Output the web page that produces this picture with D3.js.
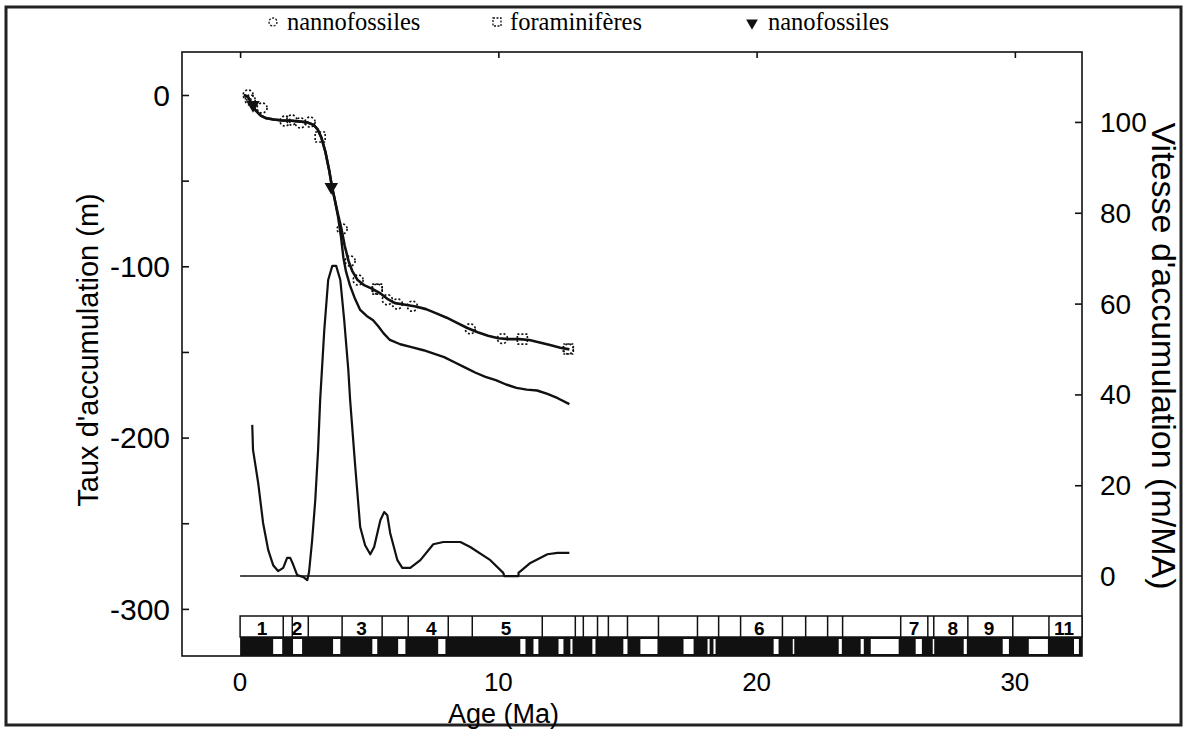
<!DOCTYPE html>
<html><head><meta charset="utf-8">
<script src="https://cdn.jsdelivr.net/npm/d3@7"></script>
<style>html,body{margin:0;padding:0;background:#fff;}</style>
</head><body><svg id="c" width="1187" height="731"></svg>
<script>
// ---- data ----
const depthNanno = [[0.15,0],[0.3,-1],[0.45,-5],[0.6,-9],[0.8,-12],[1.0,-13.5],[1.3,-14.3],[1.6,-14.8],[2.0,-15],[2.3,-15.5],[2.6,-16],[2.85,-17.5],[3.0,-20],[3.15,-25],[3.3,-33],[3.45,-44],[3.55,-53],[3.65,-60],[3.78,-69],[3.92,-78],[4.05,-88],[4.2,-97],[4.35,-103],[4.55,-108],[4.8,-111],[5.1,-113],[5.4,-115.5],[5.7,-119],[6.0,-121.5],[6.4,-122.5],[6.8,-123.5],[7.2,-125],[7.6,-127.5],[8.0,-130],[8.4,-133],[8.8,-136],[9.2,-138.5],[9.6,-140.5],[10.0,-142],[10.4,-142.5],[10.8,-142.5],[11.2,-143],[11.6,-144.5],[12.0,-146],[12.4,-147.5],[12.75,-148.5]];
const depthLower = [[0.15,0],[0.3,-1],[0.45,-5],[0.6,-9],[0.8,-12],[1.0,-13.5],[1.3,-14.3],[1.6,-14.8],[2.0,-15],[2.3,-15.5],[2.6,-16],[2.85,-17.5],[3.0,-20],[3.15,-25],[3.3,-33],[3.45,-44],[3.55,-53],[3.65,-60],[3.78,-70],[3.9,-82],[4.0,-95],[4.1,-103],[4.25,-111],[4.45,-119],[4.65,-125.5],[4.9,-129],[5.15,-131.5],[5.35,-135],[5.55,-139],[5.8,-143],[6.2,-145.5],[6.6,-147],[7.1,-149],[7.5,-151],[7.9,-153],[8.3,-156],[8.7,-159],[9.1,-162],[9.5,-164.5],[9.9,-166.5],[10.3,-169],[10.7,-171],[11.1,-172],[11.5,-172.5],[11.9,-174.5],[12.3,-177],[12.75,-180.5]];
const rate = [[0.47,33.3],[0.5,27.8],[0.7,20.5],[0.89,11.7],[1.09,5.7],[1.28,2.4],[1.47,1.1],[1.67,1.8],[1.82,4.0],[1.94,4.0],[2.05,2.6],[2.21,0.2],[2.44,-0.2],[2.6,-0.9],[2.67,0.9],[2.79,7.9],[2.91,16.7],[3.02,27.8],[3.1,38.8],[3.26,54.2],[3.41,65.2],[3.57,68.3],[3.72,68.3],[3.88,65.2],[4.03,56.4],[4.19,45.4],[4.26,38.8],[4.46,24.0],[4.65,10.8],[4.84,6.8],[5.04,4.8],[5.19,6.4],[5.43,12.3],[5.58,14.1],[5.7,13.4],[5.81,9.5],[6.09,3.5],[6.28,1.8],[6.59,1.8],[6.98,3.5],[7.48,7.0],[7.87,7.5],[8.53,7.5],[8.91,6.4],[9.69,3.5],[10.19,0.7],[10.23,0],[10.78,0],[10.78,0.7],[11.24,2.9],[11.9,4.8],[12.29,5.1],[12.75,5.1]];
const ptsNanno = [[0.31,0],[0.39,-2.9],[0.85,-7.6],[1.74,-15.2],[2.0,-14.6],[2.33,-16.3],[2.71,-15.8],[3.95,-78.2],[4.26,-96.9],[4.57,-108],[5.31,-113.3],[5.7,-119.5],[6.09,-122],[6.67,-123.3],[8.91,-136.5],[10.16,-142.2],[12.71,-148.3]];
const ptsForam = [[3.1,-24.5],[5.31,-113.3],[10.93,-142.5],[12.71,-148.3]];
const ptsNanoTri = [[0.5,-5.8],[3.53,-53.7]];
const xTicks = [0,10,20,30];
const yLeftTicks = [-300,-250,-200,-150,-100,-50,0];
const yLeftLabels = [-300,-200,-100,0];
const yRightTicks = [0,20,40,60,80,100];
const chronBounds = [0,1.67,2.02,2.64,3.95,5.5,6.51,8.06,8.99,11.7,12.98,13.29,13.84,14.26,15.0,16.2,17.71,18.53,19.38,21.0,21.9,22.75,23.33,25.58,26.63,26.86,28.18,29.92,31.32,32.6];
const chronLabels = [["1",0.85],["2",2.2],["3",4.7],["4",7.4],["5",10.3],["6",20.1],["7",26.1],["8",27.6],["9",29.0],["11",31.9]];
const reversed = [[1.28,1.63],[2.05,2.4],[3.6,3.88],[5.12,5.31],[6.12,6.4],[7.67,7.95],[10.85,11.05],[11.36,11.55],[12.33,12.52],[12.79,12.87],[13.64,13.76],[14.84,15.0],[15.5,16.16],[17.17,17.56],[18.1,18.18],[18.33,18.41],[20.66,20.85],[21.4,21.45],[23.18,23.3],[24.03,24.15],[24.42,25.5],[26.16,26.4],[26.82,26.86],[28.02,28.14],[29.53,29.77],[30.54,31.28],[32.29,32.48]];
const legendItems = [["circle","nannofossiles"],["square","foraminifères"],["triangle","nanofossiles"]];

// ---- layout ----
const L=182,R=1082,T=52,B=656;
const x = d3.scaleLinear().domain([-2.25,32.6]).range([L,R]);
const yL = d3.scaleLinear().domain([-327.5,25.1]).range([B,T]);
const yR = d3.scaleLinear().domain([-17.6,115.4]).range([B,T]);
const svg = d3.select("#c");
const sans = "'Liberation Sans', Arial, Helvetica, sans-serif";
const serif = "'Liberation Serif', 'Times New Roman', serif";

// outer frame
svg.append("rect").attr("x",6).attr("y",7).attr("width",1175).attr("height",718)
  .attr("fill","none").attr("stroke","#222").attr("stroke-width",3);

// plot frame
svg.append("rect").attr("x",L).attr("y",T).attr("width",R-L).attr("height",B-T)
  .attr("fill","none").attr("stroke","#111").attr("stroke-width",1.6);

// axes
const gl = svg.append("g").attr("transform",`translate(${L},0)`)
  .call(d3.axisRight(yL).tickValues(yLeftTicks).tickSize(7).tickFormat(""));
const gr = svg.append("g").attr("transform",`translate(${R},0)`)
  .call(d3.axisLeft(yR).tickValues(yRightTicks.filter(d=>d>0)).tickSize(7).tickFormat(""));
const gt = svg.append("g").attr("transform",`translate(0,${T})`)
  .call(d3.axisBottom(x).tickValues(xTicks).tickSize(6).tickFormat(""));
[gl,gr,gt].forEach(g=>{g.select(".domain").remove();g.selectAll("line").attr("stroke","#111").attr("stroke-width",1.6);});

// tick labels
svg.append("g").selectAll("text").data(yLeftLabels).join("text")
  .attr("x",170).attr("y",d=>yL(d)).attr("dy","0.36em").attr("text-anchor","end")
  .attr("font-family",sans).attr("font-size",30).text(d=>d);
svg.append("g").selectAll("text").data(yRightTicks).join("text")
  .attr("x",1100).attr("y",d=>yR(d)).attr("dy","0.36em").attr("text-anchor","start")
  .attr("font-family",sans).attr("font-size",28).text(d=>d);
svg.append("g").selectAll("text").data(xTicks).join("text")
  .attr("x",d=>x(d)).attr("y",682).attr("dy","0.36em").attr("text-anchor","middle")
  .attr("font-family",sans).attr("font-size",26).text(d=>d);

// titles
svg.append("text").attr("transform","translate(88,350) rotate(-90)").attr("text-anchor","middle")
  .attr("dy","0.36em").attr("font-family",sans).attr("font-size",29).text("Taux d'accumulation (m)");
svg.append("text").attr("transform","translate(1164,356) rotate(90)").attr("text-anchor","middle")
  .attr("dy","0.36em").attr("font-family",sans).attr("font-size",34).text("Vitesse d'accumulation (m/MA)");
svg.append("text").attr("x",x(10.2)).attr("y",713).attr("dy","0.36em").attr("text-anchor","middle")
  .attr("font-family",sans).attr("font-size",27).text("Age (Ma)");

// magnetic band
const bTop=616, bMid=637, bBot=B;
const band = svg.append("g");
band.append("rect").attr("x",x(0)).attr("y",bTop).attr("width",R-x(0)).attr("height",bMid-bTop)
  .attr("fill","#fff").attr("stroke","#111").attr("stroke-width",1.5);
band.append("rect").attr("x",x(0)).attr("y",bMid).attr("width",R-x(0)).attr("height",bBot-bMid)
  .attr("fill","#111");
band.selectAll("line.cb").data(chronBounds.slice(1,-1)).join("line").attr("class","cb")
  .attr("x1",d=>x(d)).attr("x2",d=>x(d)).attr("y1",bTop).attr("y2",bMid)
  .attr("stroke","#111").attr("stroke-width",1.5);
band.selectAll("rect.rv").data(reversed).join("rect").attr("class","rv")
  .attr("x",d=>x(d[0])).attr("width",d=>Math.max(1.5,x(d[1])-x(d[0])))
  .attr("y",bMid+2).attr("height",bBot-bMid-4).attr("fill","#fff");
band.selectAll("text").data(chronLabels).join("text")
  .attr("x",d=>x(d[1])).attr("y",(bTop+bMid)/2+1).attr("dy","0.37em").attr("text-anchor","middle")
  .attr("font-family",sans).attr("font-weight","bold").attr("font-size",19).text(d=>d[0]);

// zero line of rate axis
svg.append("line").attr("x1",x(0)).attr("x2",R).attr("y1",yR(0)).attr("y2",yR(0))
  .attr("stroke","#111").attr("stroke-width",1.6);

// curves
const lineL = d3.line().x(d=>x(d[0])).y(d=>yL(d[1]));
const lineR = d3.line().x(d=>x(d[0])).y(d=>yR(d[1]));
svg.append("path").attr("d",lineL(depthLower)).attr("fill","none").attr("stroke","#111").attr("stroke-width",2.4).attr("stroke-linejoin","round");
svg.append("path").attr("d",lineL(depthNanno)).attr("fill","none").attr("stroke","#111").attr("stroke-width",2.6).attr("stroke-linejoin","round");
svg.append("path").attr("d",lineR(rate)).attr("fill","none").attr("stroke","#111").attr("stroke-width",2.2).attr("stroke-linejoin","round");

// symbols
svg.append("g").selectAll("circle").data(ptsNanno).join("circle")
  .attr("cx",d=>x(d[0])).attr("cy",d=>yL(d[1])).attr("r",5)
  .attr("fill","none").attr("stroke","#111").attr("stroke-width",1.6).attr("stroke-dasharray","2,2");
svg.append("g").selectAll("rect").data(ptsForam).join("rect")
  .attr("x",d=>x(d[0])-5).attr("y",d=>yL(d[1])-5).attr("width",10).attr("height",10)
  .attr("fill","none").attr("stroke","#111").attr("stroke-width",1.6).attr("stroke-dasharray","2,2");
const tri = d3.symbol().type(d3.symbolTriangle).size(80);
svg.append("g").selectAll("path").data(ptsNanoTri).join("path")
  .attr("transform",d=>`translate(${x(d[0])},${yL(d[1])}) rotate(180)`).attr("d",tri()).attr("fill","#111");

// legend
const legX = [273,497,752], legTx=[287,510,768];
const lg = svg.append("g");
legendItems.forEach((it,i)=>{
  const cy=22;
  if(it[0]==="circle") lg.append("circle").attr("cx",legX[i]).attr("cy",cy).attr("r",4).attr("fill","none").attr("stroke","#111").attr("stroke-width",1.3).attr("stroke-dasharray","2,1.5");
  else if(it[0]==="square") lg.append("rect").attr("x",legX[i]-4).attr("y",cy-4).attr("width",8).attr("height",8).attr("fill","none").attr("stroke","#111").attr("stroke-width",1.3).attr("stroke-dasharray","2,1.5");
  else lg.append("path").attr("transform",`translate(${legX[i]},${cy+1}) rotate(180)`).attr("d",d3.symbol().type(d3.symbolTriangle).size(60)()).attr("fill","#111");
  lg.append("text").attr("x",legTx[i]).attr("y",cy).attr("dy","0.33em").attr("font-family",serif).attr("font-size",24.5).text(it[1]);
});
</script></body></html>
